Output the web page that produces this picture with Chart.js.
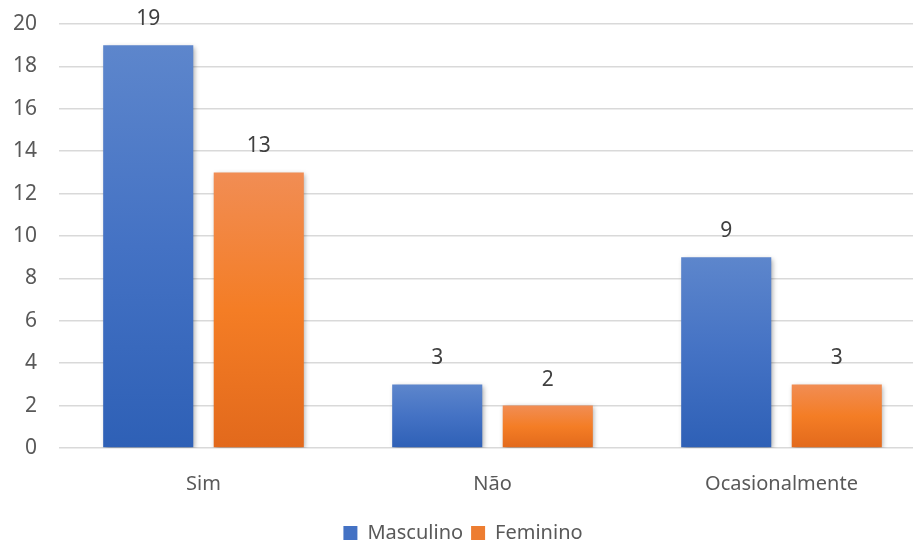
<!DOCTYPE html>
<html>
<head>
<meta charset="utf-8">
<script src="https://cdn.jsdelivr.net/npm/chart.js@4"></script>
<style>
html,body{margin:0;padding:0;background:#fff;overflow:hidden;}
#wrap{width:930px;height:542px;}
</style>
</head>
<body>
<div id="wrap"><canvas id="c" width="930" height="542"></canvas></div>
<script>
const categories = ["Sim", "Não", "Ocasionalmente"];
const masculino = [19, 3, 9];
const feminino = [13, 2, 3];
const seriesNames = ["Masculino", "Feminino"];
const yTicks = [0, 2, 4, 6, 8, 10, 12, 14, 16, 18, 20];

const FONT = "'Noto Sans', sans-serif";
const TXT = "#595959";
const FS = 20;
const NUM_FS = 21;

function barGradient(stops, fallback) {
  return function(ctx) {
    const chart = ctx.chart;
    if (!chart.chartArea || ctx.type !== 'data') return fallback;
    const y = chart.scales.y;
    const top = y.getPixelForValue(ctx.raw);
    const base = y.getPixelForValue(0);
    if (!isFinite(top) || !isFinite(base) || top === base) return fallback;
    const g = chart.ctx.createLinearGradient(0, top, 0, base);
    g.addColorStop(0, stops[0]);
    g.addColorStop(0.5, stops[1]);
    g.addColorStop(1, stops[2]);
    return g;
  };
}

const shadowPlugin = {
  id: 'barShadow',
  beforeDatasetsDraw(chart) {
    const c = chart.ctx;
    c.save();
    c.shadowColor = 'rgba(0,0,0,0.35)';
    c.shadowBlur = 5;
    c.shadowOffsetX = 1.5;
    c.shadowOffsetY = 1.5;
  },
  afterDatasetsDraw(chart) {
    chart.ctx.restore();
  }
};

const labelPlugin = {
  id: 'valueLabels',
  afterDatasetsDraw(chart) {
    const c = chart.ctx;
    c.save();
    c.font = NUM_FS + "px " + FONT;
    c.fillStyle = "#404040";
    c.textAlign = 'center';
    c.textBaseline = 'middle';
    chart.data.datasets.forEach((ds, i) => {
      chart.getDatasetMeta(i).data.forEach((bar, j) => {
        c.fillText(String(ds.data[j]), bar.x, bar.y - 26);
      });
    });
    c.restore();
  }
};

new Chart(document.getElementById('c'), {
  type: 'bar',
  data: {
    labels: categories,
    datasets: [
      {
        label: seriesNames[0],
        data: masculino,
        backgroundColor: barGradient(['#5d86cc', '#4472c4', '#2e60b6'], '#4472c4'),
        borderWidth: 0,
        categoryPercentage: 0.765,
        barPercentage: 0.815
      },
      {
        label: seriesNames[1],
        data: feminino,
        backgroundColor: barGradient(['#f18d54', '#f47d25', '#e2691c'], '#ed7d31'),
        borderWidth: 0,
        categoryPercentage: 0.765,
        barPercentage: 0.815
      }
    ]
  },
  options: {
    responsive: false,
    animation: false,
    devicePixelRatio: 1,
    layout: { autoPadding: false, padding: { top: 24, right: 4, left: 0, bottom: -11 } },
    plugins: {
      legend: {
        position: 'bottom',
        labels: {
          font: { family: FONT, size: FS },
          color: TXT,
          boxWidth: 14,
          boxHeight: 14,
          padding: 8,
          generateLabels(chart) {
            return seriesNames.map((n, i) => ({
              text: n,
              fillStyle: i === 0 ? '#4472c4' : '#ed7d31',
              strokeStyle: 'rgba(0,0,0,0)',
              lineWidth: 0,
              datasetIndex: i,
              fontColor: TXT
            }));
          }
        }
      },
      tooltip: { enabled: false }
    },
    scales: {
      x: {
        grid: { display: false },
        border: { display: false },
        ticks: { font: { family: FONT, size: FS }, color: TXT, padding: 16 },
        afterFit(scale) { scale.height = 67; }
      },
      y: {
        min: 0,
        max: 20,
        afterBuildTicks(scale) { scale.ticks = yTicks.map(v => ({ value: v })); },
        grid: { color: '#d9d9d9', lineWidth: 1.5, drawTicks: true, tickLength: 18, tickColor: 'rgba(0,0,0,0)' },
        border: { display: false },
        ticks: { font: { family: FONT, size: 21 }, color: TXT, padding: 4 },
        afterFit(scale) { scale.width = 59; }
      }
    }
  },
  plugins: [shadowPlugin, labelPlugin]
});
</script>
</body>
</html>
